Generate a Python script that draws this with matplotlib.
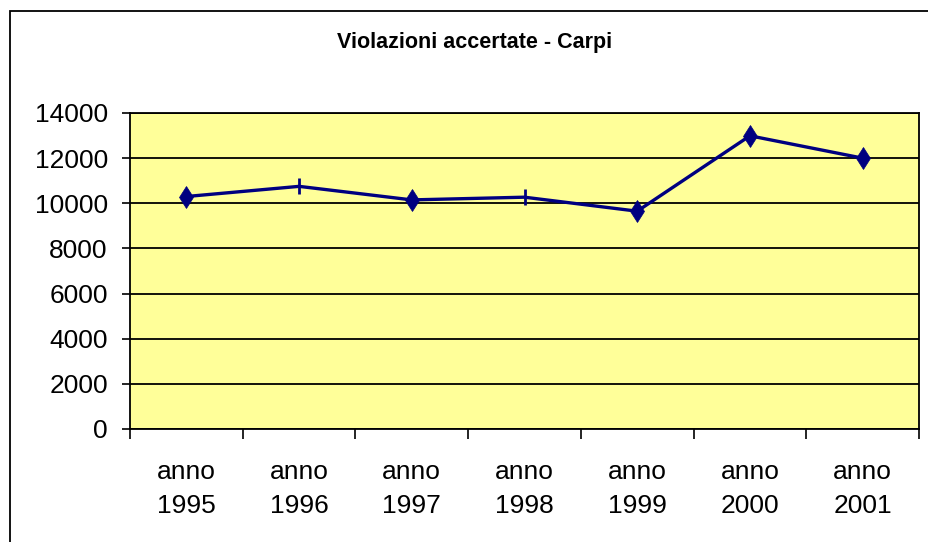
import matplotlib.pyplot as plt
import numpy as np
from matplotlib.patches import Rectangle

years = ["anno\n1995", "anno\n1996", "anno\n1997", "anno\n1998", "anno\n1999", "anno\n2000", "anno\n2001"]
violazioni = [10300, 10750, 10150, 10270, 9650, 12990, 12000]
markers = ["d", "|", "d", "|", "d", "d", "d"]

plt.rcParams['font.family'] = ['Liberation Sans', 'DejaVu Sans']

fig = plt.figure(figsize=(9.29, 5.42), dpi=100)
ax = fig.add_axes([130 / 929, 113 / 542, 789 / 929, 316 / 542])
ax.set_facecolor('#FFFF99')

x = np.arange(len(years))
ax.plot(x, violazioni, color='#000080', lw=2.4, zorder=3)
for xi, yi, m in zip(x, violazioni, markers):
    if m == "d":
        ax.plot(xi, yi, marker='d', ms=11.5, mew=0.5, color='#000080', zorder=4)
    else:
        ax.plot(xi, yi, marker='|', ms=11, mew=2, color='#000080', zorder=4)

ax.set_xlim(-0.5, len(years) - 0.5)
ax.set_ylim(0, 14000)
ax.set_yticks(np.arange(0, 14001, 2000))
ax.yaxis.grid(True, color='black', lw=1.3)
ax.set_axisbelow(True)

ax.set_xticks(np.arange(-0.5, len(years), 1.0))
ax.set_xticklabels([])
ax.set_xticks(x, minor=True)
ax.set_xticklabels(years, minor=True, linespacing=1.55)
ax.tick_params(axis='x', which='minor', length=0, pad=22, labelsize=19)
ax.tick_params(axis='x', which='major', length=7, width=1.2, direction='out')
ax.tick_params(axis='y', length=6, width=1.2, pad=10, labelsize=19)

for s in ['top', 'right', 'left', 'bottom']:
    ax.spines[s].set_linewidth(1.3)

fig.text(475 / 929, 1 - 42 / 542, "Violazioni accertate - Carpi", ha='center', va='center',
         fontsize=15.5, fontweight='bold')

fig.patches.append(Rectangle((10 / 929, -0.1), 1.2, 1 - 11 / 542 + 0.1, transform=fig.transFigure,
                             fill=False, edgecolor='black', lw=1.3))

fig.savefig('out.png', dpi=100)
